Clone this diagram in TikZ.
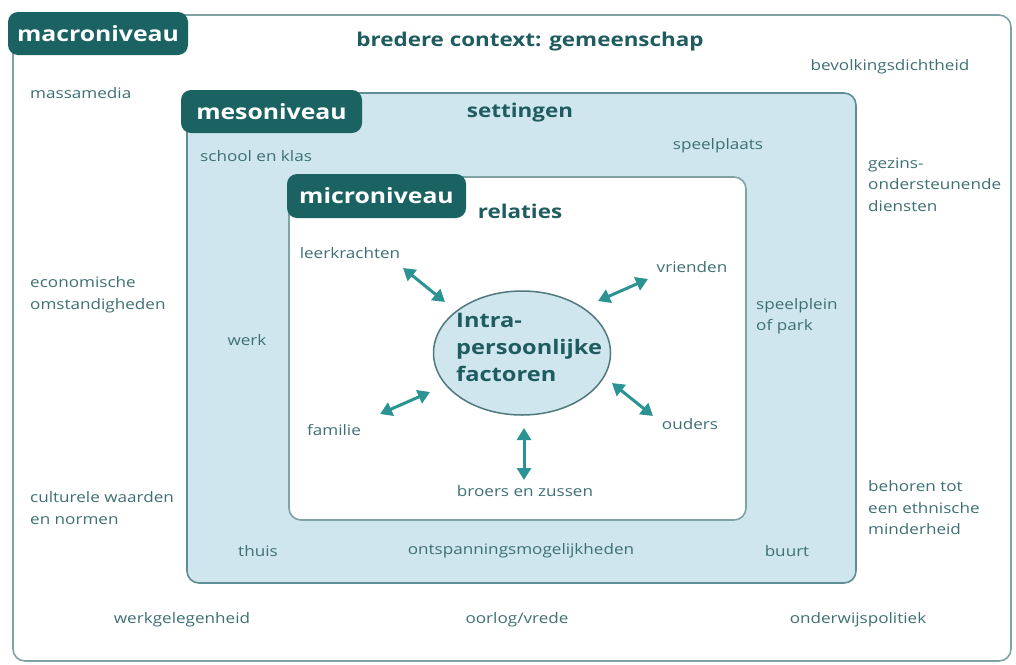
\documentclass[tikz,border=0pt]{standalone}
\usepackage{fontspec}
\setmainfont{Open Sans}[FakeStretch=1.18]
\usetikzlibrary{arrows.meta,shapes.geometric}
\definecolor{tagfill}{HTML}{1B6363}
\definecolor{lbl}{HTML}{3E7073}
\definecolor{head}{HTML}{1F5C5F}
\definecolor{lightb}{HTML}{CFE6EE}
\definecolor{outerline}{HTML}{7FA3A4}
\definecolor{mesoline}{HTML}{5E8E93}
\definecolor{arrowc}{HTML}{2B9393}
\tikzset{
  box/.style={draw, rounded corners=12pt, line width=1.6pt, inner sep=0pt},
  tag/.style={fill=tagfill, rounded corners=10pt, inner sep=0pt, text=white,
     font=\fontsize{21}{25}\selectfont\bfseries},
  lab/.style={text=lbl, inner sep=0pt, font=\fontsize{14.5}{21.5}\selectfont, align=left},
  hd/.style={text=head, inner sep=0pt, font=\fontsize{19}{23}\selectfont\bfseries},
  biarrow/.style={draw=arrowc, line width=3pt,
     {Triangle[length=12pt,width=14pt]}-{Triangle[length=12pt,width=14pt]}},
}
\begin{document}
\begin{tikzpicture}[x=1pt,y=-1pt]
\useasboundingbox (0,0) rectangle (1016,664);
% boxes
\node[box, draw=outerline, fill=white, minimum width=998pt, minimum height=646pt] (macro) at (512,338) {};
\node[box, draw=mesoline, fill=lightb, minimum width=669pt, minimum height=490pt] (meso) at (521.5,338) {};
\node[box, draw=outerline, fill=white, minimum width=457pt, minimum height=343pt] (micro) at (517.5,348.5) {};
% tags
\node[tag, minimum width=180pt, minimum height=43pt] (macrotag) at (98,33.5) {macroniveau};
\node[tag, minimum width=181pt, minimum height=43pt] (mesotag) at (271.5,111.5) {mesoniveau};
\node[tag, minimum width=179pt, minimum height=44pt] (microtag) at (376.5,196) {microniveau};
% ellipse
\node[ellipse, draw=mesoline!85!black, line width=1.5pt, fill=lightb, minimum width=177pt, minimum height=124pt, inner sep=0pt] (intra) at (522,353) {};
\node[anchor=west, text=head, inner sep=0pt, align=left, font=\fontsize{20}{27}\selectfont\bfseries] (intratext) at (456,347) {Intra-\\persoonlijke\\factoren};
% headings
\node[hd] (bredere) at (530,42) {bredere context: gemeenschap};
\node[hd] (settingen) at (520,113) {settingen};
\node[hd] (relaties) at (520,211) {relaties};
% macro labels
\node[lab] (bevolking) at (890,67) {bevolkingsdichtheid};
\node[lab, anchor=west] (massa) at (30,93) {massamedia};
\node[lab, anchor=west] (gezins) at (868,184.5) {gezins-\\ondersteunende\\diensten};
\node[lab, anchor=west] (econ) at (30,294.5) {economische\\omstandigheden};
\node[lab, anchor=west] (cultuur) at (30,508) {culturele waarden\\en normen};
\node[lab, anchor=west] (etnisch) at (868,508) {behoren tot\\een ethnische\\minderheid};
\node[lab] (werkgel) at (182,620) {werkgelegenheid};
\node[lab] (oorlog) at (517,620) {oorlog/vrede};
\node[lab] (onderwijs) at (858,620) {onderwijspolitiek};
% meso labels
\node[lab, anchor=west] (school) at (200,156) {school en klas};
\node[lab] (speelplaats) at (718,146) {speelplaats};
\node[lab, anchor=west] (speelplein) at (756,316) {speelplein\\of park};
\node[lab] (werk) at (247,340) {werk};
\node[lab] (thuis) at (258,551) {thuis};
\node[lab] (ontsp) at (521,551) {ontspanningsmogelijkheden};
\node[lab] (buurt) at (787,551) {buurt};
% micro labels
\node[lab] (leer) at (350,253) {leerkrachten};
\node[lab] (vrienden) at (692,267) {vrienden};
\node[lab] (familie) at (334,430) {familie};
\node[lab] (ouders) at (690,424) {ouders};
\node[lab] (broers) at (525,491) {broers en zussen};
% arrow ends
\coordinate (a1s) at (403,268); \coordinate (a1e) at (445,302);
\coordinate (a2s) at (648,279); \coordinate (a2e) at (598,301);
\coordinate (a3s) at (380,414); \coordinate (a3e) at (430,392);
\coordinate (a4s) at (653,416); \coordinate (a4e) at (612,383);
\coordinate (a5s) at (524,480); \coordinate (a5e) at (524,428);
\draw[biarrow] (a1s) -- (a1e);
\draw[biarrow] (a2s) -- (a2e);
\draw[biarrow] (a3s) -- (a3e);
\draw[biarrow] (a4s) -- (a4e);
\draw[biarrow] (a5s) -- (a5e);
\end{tikzpicture}
\end{document}
